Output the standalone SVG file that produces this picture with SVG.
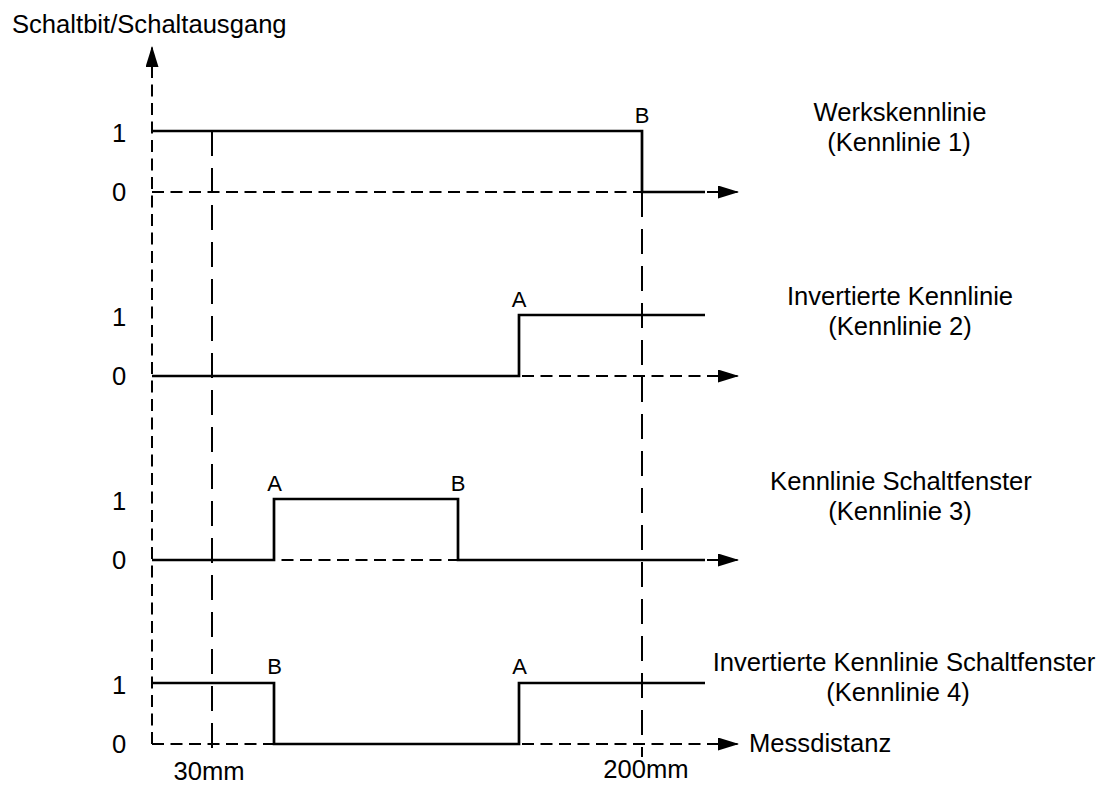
<svg xmlns="http://www.w3.org/2000/svg" width="1103" height="785" viewBox="0 0 1103 785">
<style>
text{font-family:"Liberation Sans",Arial,sans-serif;font-size:25.6px;fill:#000}
.ab{font-size:22px}
.sig{fill:none;stroke:#000;stroke-width:2.7}
.ax{fill:none;stroke:#000;stroke-width:2;stroke-dasharray:12 6.5}
.grid{fill:none;stroke:#000;stroke-width:2;stroke-dasharray:25 12}
.mid{text-anchor:middle}
</style>
<defs>
<marker id="ah" viewBox="0 0 21 13" refX="21" refY="6.5" markerWidth="21" markerHeight="13" markerUnits="userSpaceOnUse" orient="auto"><path d="M0,0 L21,6.5 L0,13 Z" fill="#000"/></marker>
</defs>
<rect width="1103" height="785" fill="#fff"/>
<g id="connectors">
<line class="ax" x1="152" y1="744" x2="152" y2="46" marker-end="url(#ah)"/>
<line class="grid" x1="212" y1="131" x2="212" y2="757"/>
<line class="grid" x1="642" y1="192" x2="642" y2="757"/>
<line class="ax" x1="152" y1="192" x2="739" y2="192" marker-end="url(#ah)"/>
<line class="ax" x1="152" y1="376" x2="739" y2="376" marker-end="url(#ah)"/>
<line class="ax" x1="152" y1="560" x2="739" y2="560" marker-end="url(#ah)"/>
<line class="ax" x1="152" y1="744" x2="739" y2="744" marker-end="url(#ah)"/>
</g>
<g id="curve1">
<polyline class="sig" points="152,131 642,131 642,192 705,192"/>
<text x="642" y="123" class="mid ab">B</text>
<text x="900" y="121" class="mid">Werkskennlinie</text>
<text x="899" y="151" class="mid">(Kennlinie 1)</text>
</g>
<g id="curve2">
<polyline class="sig" points="152,376 519,376 519,315 705,315"/>
<text x="519" y="307" class="mid ab">A</text>
<text x="900" y="305" class="mid">Invertierte Kennlinie</text>
<text x="900" y="335" class="mid">(Kennlinie 2)</text>
</g>
<g id="curve3">
<polyline class="sig" points="152,560 274,560 274,499 458,499 458,560 705,560"/>
<text x="274.5" y="491" class="mid ab">A</text>
<text x="458" y="491" class="mid ab">B</text>
<text x="901" y="490" class="mid">Kennlinie Schaltfenster</text>
<text x="900" y="520" class="mid">(Kennlinie 3)</text>
</g>
<g id="curve4">
<polyline class="sig" points="152,683 274,683 274,744 519,744 519,683 705,683"/>
<text x="274.5" y="674" class="mid ab">B</text>
<text x="519.5" y="674" class="mid ab">A</text>
<text x="904" y="671" class="mid">Invertierte Kennlinie Schaltfenster</text>
<text x="898" y="701" class="mid">(Kennlinie 4)</text>
</g>
<g id="labels">
<text x="12" y="33">Schaltbit/Schaltausgang</text>
<text x="119" y="142" class="mid">1</text>
<text x="119" y="201" class="mid">0</text>
<text x="119" y="326" class="mid">1</text>
<text x="119" y="385" class="mid">0</text>
<text x="119" y="510" class="mid">1</text>
<text x="119" y="569" class="mid">0</text>
<text x="119" y="694" class="mid">1</text>
<text x="119" y="753" class="mid">0</text>
<text x="749" y="752">Messdistanz</text>
<text x="209" y="780" class="mid">30mm</text>
<text x="646" y="778" class="mid">200mm</text>
</g>
</svg>
